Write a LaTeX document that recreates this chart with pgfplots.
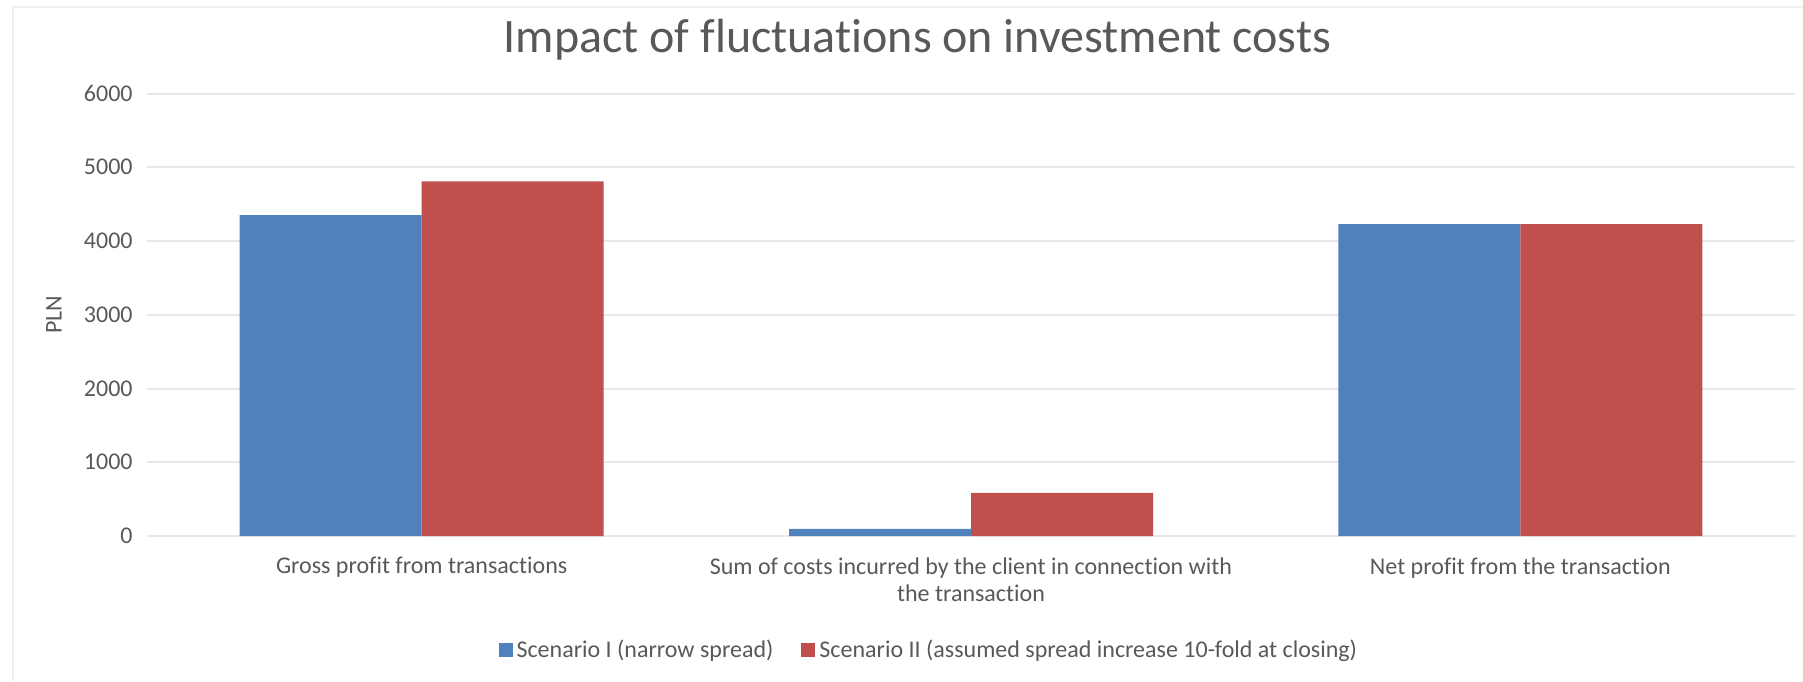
\documentclass[border=0pt]{standalone}
\usepackage{fontspec}
\setmainfont{Carlito}[Ligatures=NoCommon]
\usepackage{pgfplots}
\pgfplotsset{compat=1.18}
\definecolor{sblue}{HTML}{4F81BD}
\definecolor{sred}{HTML}{C0504D}
\definecolor{txt}{HTML}{595959}
\definecolor{grd}{HTML}{E8E8E8}
\definecolor{frm}{HTML}{EFEFEF}
\begin{document}
\begin{tikzpicture}
\useasboundingbox[fill=white] (0,0) rectangle (901.5pt,340.5pt);
\draw[frm, line width=1pt] (6.5pt,0) -- (6.5pt,337pt) -- (901.5pt,337pt);
\node[anchor=base, text=txt, font=\fontsize{24}{28}\selectfont, inner sep=0] at (458.75pt,314pt) {Impact of fluctuations on investment costs};
\node[rotate=90, text=txt, font=\fontsize{12}{14}\selectfont, inner sep=0] at (27pt,183pt) {PLN};
\begin{axis}[
  at={(73.5pt,72.5pt)}, anchor=south west,
  scale only axis, width=824pt, height=221.25pt,
  xmin=-0.5, xmax=2.5, ymin=0, ymax=6000,
  ybar=0pt, bar width=91pt,
  xtick={0,1,2},
  xticklabels={Gross profit from transactions, {Sum of costs incurred by the client in connection with\\the transaction}, Net profit from the transaction},
  ytick={0,1000,2000,3000,4000,5000,6000},
  axis line style={draw=none},
  major tick length=0pt,
  ymajorgrids, grid style={grd, line width=1pt},
  tick label style={font=\fontsize{12}{13.5}\selectfont, text=txt, inner sep=0pt},
  xticklabel style={align=center, anchor=north, yshift=-10.5pt},
  yticklabel style={anchor=east, xshift=-7pt},
  /pgf/number format/1000 sep={},
  /pgf/number format/assume math mode=true,
  legend columns=2,
  legend style={at={(0.475,0)}, anchor=center, yshift=-57pt, draw=none, fill=none,
    font=\fontsize{12}{14}\selectfont, text=txt,
    /tikz/every even column/.append style={column sep=12pt}},
  legend image code/.code={\fill[#1] (0pt,-3.5pt) rectangle (7pt,3.5pt);},
]
\addplot[fill=sblue, draw=none] coordinates {(0,4350) (1,95) (2,4230)};
\addplot[fill=sred, draw=none] coordinates {(0,4810) (1,585) (2,4230)};
\legend{Scenario I (narrow spread), Scenario II (assumed spread increase 10-fold at closing)}
\end{axis}
\end{tikzpicture}
\end{document}
